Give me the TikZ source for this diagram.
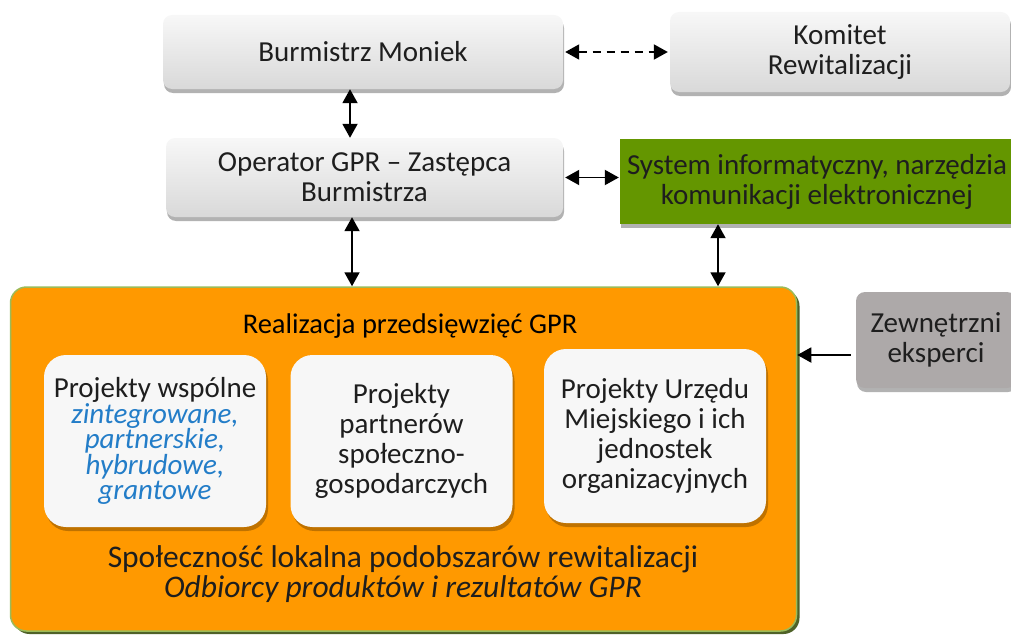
\documentclass[tikz,border=0pt]{standalone}
\usepackage{fontspec}
\setmainfont{Carlito}
\usetikzlibrary{arrows.meta,shadows,calc}
\definecolor{orfill}{RGB}{255,153,0}
\definecolor{orborder}{RGB}{155,187,89}
\definecolor{orshadow}{RGB}{79,98,40}
\definecolor{grfill}{RGB}{100,150,0}
\definecolor{zewfill}{RGB}{173,169,169}
\definecolor{bluetxt}{RGB}{35,125,200}
\definecolor{txt}{RGB}{30,30,30}
\newcommand{\bl}[1]{\textcolor{bluetxt}{\itshape #1}}
\begin{document}
\begin{tikzpicture}[x=1pt,y=-1pt,
  txtstyle/.style={font=\fontsize{29}{30}\selectfont, text=txt, align=center},
  graybox/.style={txtstyle, rounded corners=9pt, top color=gray!6, bottom color=gray!30, draw=none,
    drop shadow={shadow xshift=1pt, shadow yshift=-4pt, opacity=0.3, fill=black}},
  innerbox/.style={txtstyle, rounded corners=22pt, fill=white!97!black, draw=none,
    minimum width=222pt, minimum height=172pt,
    drop shadow={shadow xshift=2pt, shadow yshift=-4pt, opacity=0.25, fill=black}},
  conn/.style={line width=1.9pt, {Triangle[width=15pt,length=14pt]}-{Triangle[width=15pt,length=14pt]}},
  oneway/.style={line width=1.9pt, -{Triangle[width=15pt,length=14pt]}},
]
\useasboundingbox (0,0) rectangle (1011,634);

% orange main area
\node[rounded corners=16pt, fill=orfill, draw=orborder, line width=1.5pt,
  minimum width=786pt, minimum height=344pt,
  drop shadow={shadow xshift=3pt, shadow yshift=-3pt, opacity=1, fill=orshadow}]
  (real) at (403.5,459) {};

% top boxes
\node[graybox, minimum width=400pt, minimum height=74pt] (burm) at (363,52) {Burmistrz Moniek};
\node[graybox, minimum width=340pt, minimum height=80pt] (kom) at (840,52) {Komitet\\Rewitalizacji};
\node[graybox, minimum width=397pt, minimum height=79pt] (oper) at (364.5,177.5) {Operator GPR -- Zastępca\\Burmistrza};
\node[txtstyle, fill=grfill, minimum width=394pt, minimum height=85pt, inner sep=0pt,
  drop shadow={shadow xshift=1pt, shadow yshift=-4pt, opacity=0.3, fill=black}]
  (sys) at (817,181.5) {System informatyczny, narzędzia\\komunikacji elektronicznej};
\node[txtstyle, rounded corners=9pt, fill=zewfill, minimum width=160pt, minimum height=96pt,
  drop shadow={shadow xshift=1pt, shadow yshift=-4pt, opacity=0.3, fill=black}]
  (zew) at (936,340) {Zewnętrzni\\eksperci};

% inside the orange area
\node[txtstyle, font=\fontsize{28.5}{30}\selectfont, text=black] (title) at (410,326) {Realizacja przedsięwzięć GPR};
\node[innerbox] (p1) at (155,441) {Projekty wspólne\\[-4.5pt]
  \bl{zintegrowane,}\\[-4.5pt] \bl{partnerskie,}\\[-4.5pt] \bl{hybrudowe,}\\[-4.5pt] \bl{grantowe}};
\node[innerbox] (p2) at (401.5,441) {Projekty\\partnerów\\społeczno-\\gospodarczych};
\node[innerbox, minimum height=174pt] (p3) at (655,436) {Projekty Urzędu\\Miejskiego i ich\\jednostek\\organizacyjnych};
\node[txtstyle, font=\fontsize{31.5}{30}\selectfont] (comm) at (403,559) {Społeczność lokalna podobszarów rewitalizacji};
\node[txtstyle, font=\fontsize{31.5}{30}\selectfont\itshape] (recv) at (403,589) {Odbiorcy produktów i rezultatów GPR};

% connectors
\draw[conn, dashed, dash pattern=on 8pt off 6pt] ([xshift=2pt]burm.east) -- ([xshift=-2pt]kom.west);
\draw[conn] ([xshift=-13pt]burm.south) -- ([xshift=-14.5pt]oper.north);
\draw[conn] ([xshift=2pt]oper.east) -- ([xshift=-1pt]oper.east -| sys.west);
\draw[conn] ([xshift=-12.5pt]oper.south) -- ([xshift=-12.5pt]oper.south |- real.north);
\draw[conn] ([xshift=-99pt]sys.south) -- ([xshift=-99pt]sys.south |- real.north);
\draw[oneway] ([xshift=-5pt,yshift=-15pt]zew.west) -- ([yshift=-15pt]zew.west -| real.east);
\end{tikzpicture}
\end{document}
